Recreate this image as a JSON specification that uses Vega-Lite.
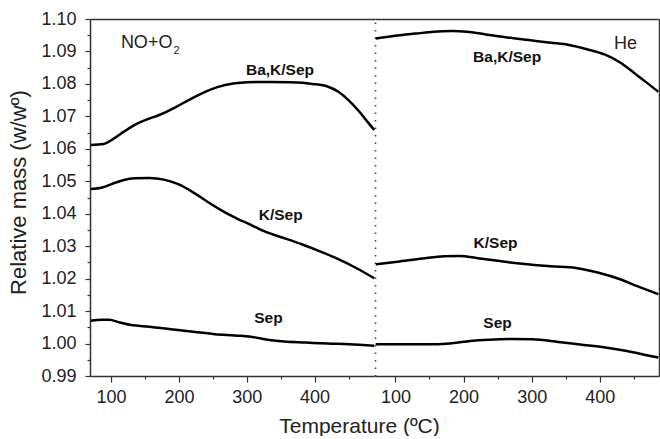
{
  "$schema": "https://vega.github.io/schema/vega-lite/v6.json",
  "padding": {"left": 7, "top": 10, "right": 1, "bottom": 0},
  "background": "white",
  "config": {
    "font": "Liberation Sans",
    "view": {"stroke": null},
    "axis": {"grid": false, "domainColor": "#333", "domainWidth": 1.5, "tickColor": "#333", "tickWidth": 1.2, "labelColor": "#222", "titleColor": "#222", "labelFont": "Liberation Sans", "titleFont": "Liberation Sans", "titleFontWeight": "normal"}
  },
  "datasets": {
    "no": [
      {"series": "Ba,K/Sep", "T": 70, "m": 1.0612},
      {"series": "Ba,K/Sep", "T": 89, "m": 1.0615},
      {"series": "Ba,K/Sep", "T": 103, "m": 1.0630},
      {"series": "Ba,K/Sep", "T": 119, "m": 1.0653},
      {"series": "Ba,K/Sep", "T": 135, "m": 1.0674},
      {"series": "Ba,K/Sep", "T": 151, "m": 1.0689},
      {"series": "Ba,K/Sep", "T": 172, "m": 1.0705},
      {"series": "Ba,K/Sep", "T": 194, "m": 1.0727},
      {"series": "Ba,K/Sep", "T": 215, "m": 1.0751},
      {"series": "Ba,K/Sep", "T": 237, "m": 1.0774},
      {"series": "Ba,K/Sep", "T": 258, "m": 1.0791},
      {"series": "Ba,K/Sep", "T": 280, "m": 1.0801},
      {"series": "Ba,K/Sep", "T": 301, "m": 1.0805},
      {"series": "Ba,K/Sep", "T": 333, "m": 1.0806},
      {"series": "Ba,K/Sep", "T": 365, "m": 1.0805},
      {"series": "Ba,K/Sep", "T": 397, "m": 1.0800},
      {"series": "Ba,K/Sep", "T": 419, "m": 1.0792},
      {"series": "Ba,K/Sep", "T": 435, "m": 1.0776},
      {"series": "Ba,K/Sep", "T": 451, "m": 1.0748},
      {"series": "Ba,K/Sep", "T": 467, "m": 1.0712},
      {"series": "Ba,K/Sep", "T": 478, "m": 1.0683},
      {"series": "Ba,K/Sep", "T": 488, "m": 1.0658},
      {"series": "K/Sep", "T": 70, "m": 1.0476},
      {"series": "K/Sep", "T": 87, "m": 1.0481},
      {"series": "K/Sep", "T": 103, "m": 1.0493},
      {"series": "K/Sep", "T": 119, "m": 1.0504},
      {"series": "K/Sep", "T": 135, "m": 1.0509},
      {"series": "K/Sep", "T": 156, "m": 1.0510},
      {"series": "K/Sep", "T": 178, "m": 1.0505},
      {"series": "K/Sep", "T": 199, "m": 1.0491},
      {"series": "K/Sep", "T": 221, "m": 1.0466},
      {"series": "K/Sep", "T": 242, "m": 1.0437},
      {"series": "K/Sep", "T": 264, "m": 1.0409},
      {"series": "K/Sep", "T": 285, "m": 1.0386},
      {"series": "K/Sep", "T": 306, "m": 1.0366},
      {"series": "K/Sep", "T": 328, "m": 1.0344},
      {"series": "K/Sep", "T": 355, "m": 1.0325},
      {"series": "K/Sep", "T": 381, "m": 1.0306},
      {"series": "K/Sep", "T": 408, "m": 1.0284},
      {"series": "K/Sep", "T": 435, "m": 1.0260},
      {"series": "K/Sep", "T": 462, "m": 1.0232},
      {"series": "K/Sep", "T": 488, "m": 1.0201},
      {"series": "Sep", "T": 70, "m": 1.0070},
      {"series": "Sep", "T": 87, "m": 1.0073},
      {"series": "Sep", "T": 97, "m": 1.0073},
      {"series": "Sep", "T": 113, "m": 1.0065},
      {"series": "Sep", "T": 130, "m": 1.0057},
      {"series": "Sep", "T": 156, "m": 1.0052},
      {"series": "Sep", "T": 188, "m": 1.0044},
      {"series": "Sep", "T": 221, "m": 1.0036},
      {"series": "Sep", "T": 253, "m": 1.0029},
      {"series": "Sep", "T": 290, "m": 1.0024},
      {"series": "Sep", "T": 312, "m": 1.0019},
      {"series": "Sep", "T": 333, "m": 1.0011},
      {"series": "Sep", "T": 355, "m": 1.0006},
      {"series": "Sep", "T": 387, "m": 1.0003},
      {"series": "Sep", "T": 419, "m": 1.0000},
      {"series": "Sep", "T": 451, "m": 0.9998},
      {"series": "Sep", "T": 488, "m": 0.9993}
    ],
    "he": [
      {"series": "Ba,K/Sep", "T": 71, "m": 1.0940},
      {"series": "Ba,K/Sep", "T": 103, "m": 1.0949},
      {"series": "Ba,K/Sep", "T": 130, "m": 1.0955},
      {"series": "Ba,K/Sep", "T": 156, "m": 1.0961},
      {"series": "Ba,K/Sep", "T": 183, "m": 1.0963},
      {"series": "Ba,K/Sep", "T": 205, "m": 1.0961},
      {"series": "Ba,K/Sep", "T": 231, "m": 1.0953},
      {"series": "Ba,K/Sep", "T": 264, "m": 1.0943},
      {"series": "Ba,K/Sep", "T": 296, "m": 1.0935},
      {"series": "Ba,K/Sep", "T": 328, "m": 1.0927},
      {"series": "Ba,K/Sep", "T": 355, "m": 1.0920},
      {"series": "Ba,K/Sep", "T": 381, "m": 1.0907},
      {"series": "Ba,K/Sep", "T": 408, "m": 1.0890},
      {"series": "Ba,K/Sep", "T": 430, "m": 1.0866},
      {"series": "Ba,K/Sep", "T": 451, "m": 1.0833},
      {"series": "Ba,K/Sep", "T": 467, "m": 1.0807},
      {"series": "Ba,K/Sep", "T": 486, "m": 1.0776},
      {"series": "K/Sep", "T": 71, "m": 1.0244},
      {"series": "K/Sep", "T": 103, "m": 1.0252},
      {"series": "K/Sep", "T": 140, "m": 1.0262},
      {"series": "K/Sep", "T": 172, "m": 1.0269},
      {"series": "K/Sep", "T": 194, "m": 1.0270},
      {"series": "K/Sep", "T": 221, "m": 1.0263},
      {"series": "K/Sep", "T": 253, "m": 1.0254},
      {"series": "K/Sep", "T": 290, "m": 1.0245},
      {"series": "K/Sep", "T": 328, "m": 1.0238},
      {"series": "K/Sep", "T": 365, "m": 1.0233},
      {"series": "K/Sep", "T": 397, "m": 1.0219},
      {"series": "K/Sep", "T": 430, "m": 1.0198},
      {"series": "K/Sep", "T": 456, "m": 1.0176},
      {"series": "K/Sep", "T": 486, "m": 1.0152},
      {"series": "Sep", "T": 71, "m": 0.9998},
      {"series": "Sep", "T": 103, "m": 0.9998},
      {"series": "Sep", "T": 156, "m": 0.9998},
      {"series": "Sep", "T": 183, "m": 1.0001},
      {"series": "Sep", "T": 210, "m": 1.0008},
      {"series": "Sep", "T": 237, "m": 1.0012},
      {"series": "Sep", "T": 269, "m": 1.0014},
      {"series": "Sep", "T": 301, "m": 1.0013},
      {"series": "Sep", "T": 339, "m": 1.0005},
      {"series": "Sep", "T": 371, "m": 0.9997},
      {"series": "Sep", "T": 408, "m": 0.9988},
      {"series": "Sep", "T": 440, "m": 0.9977},
      {"series": "Sep", "T": 467, "m": 0.9965},
      {"series": "Sep", "T": 486, "m": 0.9957}
    ],
    "noBold": [
      {"T": 349, "m": 1.0828, "label": "Ba,K/Sep"},
      {"T": 350, "m": 1.0382, "label": "K/Sep"},
      {"T": 332, "m": 1.0062, "label": "Sep"}
    ],
    "heBold": [
      {"T": 264, "m": 1.0869, "label": "Ba,K/Sep"},
      {"T": 247, "m": 1.0295, "label": "K/Sep"},
      {"T": 250, "m": 1.0049, "label": "Sep"}
    ],
    "noTitle": [{"T": 114.5, "m": 1.0910, "label": "NO+O"}],
    "noSub": [{"T": 192, "m": 1.0891, "label": "2"}],
    "heTitle": [{"T": 421, "m": 1.0908, "label": "He"}]
  },
  "bounds": "flush",
  "spacing": 0,
  "hconcat": [
    {
      "width": 285,
      "height": 357,
      "layer": [
        {
          "data": {"name": "no"},
          "mark": {"type": "line", "color": "#000", "strokeWidth": 2.5, "interpolate": "monotone"},
          "encoding": {
            "x": {"field": "T", "type": "quantitative", "scale": {"domain": [69, 489], "nice": false, "zero": false},
              "axis": {"orient": "bottom", "values": [100, 150, 200, 250, 300, 350, 400, 450],
                "labelExpr": "datum.value % 100 === 0 ? datum.label : ''",
                "tickSize": {"condition": {"test": "datum.value % 100 !== 0", "value": 3}, "value": 6},
                "labelFontSize": 18, "labelPadding": 6, "labelFlush": false,
                "title": "Temperature (ºC)", "titleFontSize": 21, "titleX": 269, "titleAlign": "center", "titlePadding": 9}},
            "y": {"field": "m", "type": "quantitative", "scale": {"domain": [0.99, 1.10], "nice": false, "zero": false},
              "axis": {"orient": "left", "values": [0.99, 0.995, 1.0, 1.005, 1.01, 1.015, 1.02, 1.025, 1.03, 1.035, 1.04, 1.045, 1.05, 1.055, 1.06, 1.065, 1.07, 1.075, 1.08, 1.085, 1.09, 1.095, 1.1],
                "format": ".2f",
                "labelExpr": "round(datum.value * 1000) % 10 === 0 ? datum.label : ''",
                "tickSize": {"condition": {"test": "round(datum.value * 1000) % 10 !== 0", "value": 3}, "value": 5},
                "labelFontSize": 18, "labelPadding": 9, "labelFlush": false,
                "title": "Relative mass (w/wº)", "titleFontSize": 22, "titlePadding": 10, "titleY": 173}},
            "detail": {"field": "series", "type": "nominal"}
          }
        },
        {
          "data": {"name": "noBold"},
          "mark": {"type": "text", "font": "Liberation Sans", "fontWeight": "bold", "fontSize": 15.5, "align": "center", "baseline": "alphabetic", "color": "#111"},
          "encoding": {
            "x": {"field": "T", "type": "quantitative", "axis": {"orient": "top", "labels": false, "ticks": false, "title": null, "domain": true}},
            "y": {"field": "m", "type": "quantitative", "axis": null},
            "text": {"field": "label"}
          }
        },
        {
          "data": {"name": "noTitle"},
          "mark": {"type": "text", "font": "Liberation Sans", "fontSize": 18, "align": "left", "baseline": "alphabetic", "color": "#222"},
          "encoding": {
            "x": {"field": "T", "type": "quantitative", "axis": null},
            "y": {"field": "m", "type": "quantitative", "axis": null},
            "text": {"field": "label"}
          }
        },
        {
          "data": {"name": "noSub"},
          "mark": {"type": "text", "font": "Liberation Sans", "fontSize": 11, "align": "left", "baseline": "alphabetic", "color": "#222"},
          "encoding": {
            "x": {"field": "T", "type": "quantitative", "axis": null},
            "y": {"field": "m", "type": "quantitative", "axis": null},
            "text": {"field": "label"}
          }
        }
      ],
      "resolve": {"axis": {"x": "independent", "y": "independent"}}
    },
    {
      "width": 284,
      "height": 357,
      "layer": [
        {
          "data": {"name": "he"},
          "mark": {"type": "line", "color": "#000", "strokeWidth": 2.5, "interpolate": "monotone"},
          "encoding": {
            "x": {"field": "T", "type": "quantitative", "scale": {"domain": [70, 487], "nice": false, "zero": false},
              "axis": {"orient": "bottom", "values": [100, 150, 200, 250, 300, 350, 400, 450],
                "labelExpr": "datum.value % 100 === 0 ? datum.label : ''",
                "tickSize": {"condition": {"test": "datum.value % 100 !== 0", "value": 3}, "value": 6},
                "labelFontSize": 18, "labelPadding": 6, "labelFlush": false, "title": null}},
            "y": {"field": "m", "type": "quantitative", "scale": {"domain": [0.99, 1.10], "nice": false, "zero": false},
              "axis": {"orient": "left", "labels": false, "ticks": false, "title": null, "domainDash": [1.5, 6], "domainWidth": 1.6, "domainColor": "#444"}},
            "detail": {"field": "series", "type": "nominal"}
          }
        },
        {
          "data": {"name": "heBold"},
          "mark": {"type": "text", "font": "Liberation Sans", "fontWeight": "bold", "fontSize": 15.5, "align": "center", "baseline": "alphabetic", "color": "#111"},
          "encoding": {
            "x": {"field": "T", "type": "quantitative", "axis": {"orient": "top", "labels": false, "ticks": false, "title": null, "domain": true}},
            "y": {"field": "m", "type": "quantitative", "axis": {"orient": "right", "labels": false, "ticks": false, "title": null, "domain": true}},
            "text": {"field": "label"}
          }
        },
        {
          "data": {"name": "heTitle"},
          "mark": {"type": "text", "font": "Liberation Sans", "fontSize": 18, "align": "left", "baseline": "alphabetic", "color": "#222"},
          "encoding": {
            "x": {"field": "T", "type": "quantitative", "axis": null},
            "y": {"field": "m", "type": "quantitative", "axis": null},
            "text": {"field": "label"}
          }
        }
      ],
      "resolve": {"axis": {"x": "independent", "y": "independent"}}
    }
  ]
}
